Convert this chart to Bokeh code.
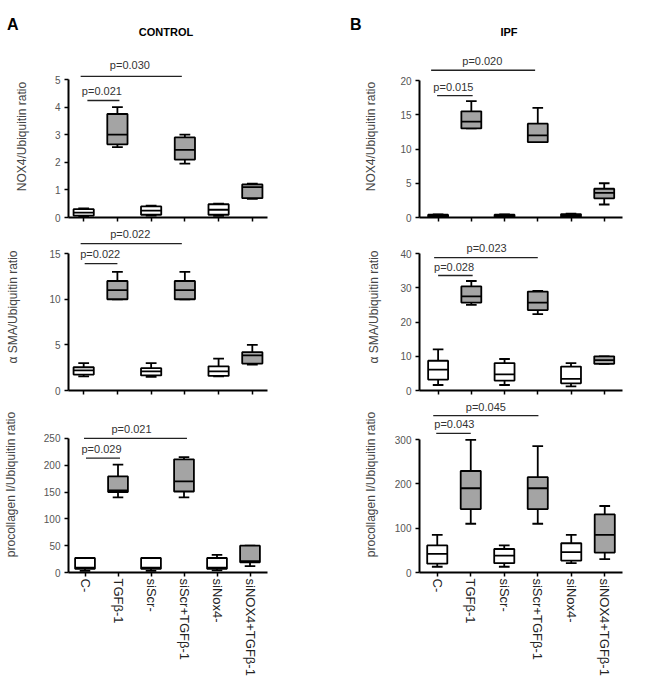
from bokeh.plotting import figure
from bokeh.layouts import row, column
from bokeh.models import Label, FixedTicker, ColumnDataSource, Range1d, Div
from bokeh.embed import file_html
from bokeh.resources import INLINE

categories = ["C-", "TGFβ-1", "siScr-", "siScr+TGFβ-1", "siNox4-", "siNOX4+TGFβ-1"]
tgf_treated = [False, True, False, True, False, True]

# CONTROL - NOX4/Ubiquitin
ctrl_nox4_min = [0.03, 2.55, 0.07, 1.95, 0.06, 0.68]
ctrl_nox4_q1 = [0.07, 2.65, 0.1, 2.1, 0.1, 0.7]
ctrl_nox4_med = [0.18, 3.0, 0.25, 2.45, 0.28, 1.1]
ctrl_nox4_q3 = [0.3, 3.75, 0.4, 2.9, 0.48, 1.2]
ctrl_nox4_max = [0.33, 4.0, 0.43, 3.0, 0.5, 1.23]

# CONTROL - alpha SMA/Ubiquitin
ctrl_sma_min = [1.55, 10.0, 1.5, 10.0, 1.55, 2.85]
ctrl_sma_q1 = [1.75, 10.0, 1.65, 10.0, 1.6, 2.95]
ctrl_sma_med = [2.2, 11.0, 2.1, 11.0, 2.1, 3.85]
ctrl_sma_q3 = [2.55, 12.0, 2.45, 12.0, 2.65, 4.2]
ctrl_sma_max = [3.0, 13.0, 3.0, 13.0, 3.5, 5.0]

# CONTROL - procollagen I/Ubiquitin
ctrl_col_min = [3, 140, 3, 140, 4, 12]
ctrl_col_q1 = [7, 150, 7, 151, 7, 19]
ctrl_col_med = [9, 153, 9, 170, 9, 21]
ctrl_col_q3 = [27, 179, 27, 211, 27, 50]
ctrl_col_max = [27, 201, 27, 215, 33, 50]

# IPF - NOX4/Ubiquitin
ipf_nox4_min = [0.05, 13.0, 0.05, 11.0, 0.05, 1.9]
ipf_nox4_q1 = [0.1, 13.0, 0.1, 11.0, 0.1, 2.8]
ipf_nox4_med = [0.25, 14.0, 0.25, 12.0, 0.3, 3.6]
ipf_nox4_q3 = [0.4, 15.5, 0.4, 13.7, 0.5, 4.2]
ipf_nox4_max = [0.45, 17.0, 0.45, 16.0, 0.55, 5.0]

# IPF - alpha SMA/Ubiquitin
ipf_sma_min = [1.6, 25.0, 1.6, 22.3, 1.2, 7.8]
ipf_sma_q1 = [3.2, 25.7, 2.9, 23.5, 2.1, 7.8]
ipf_sma_med = [6.1, 27.5, 4.7, 25.7, 3.4, 8.9]
ipf_sma_q3 = [8.7, 30.4, 8.0, 28.9, 7.0, 10.0]
ipf_sma_max = [12.0, 32.0, 9.2, 29.1, 8.0, 10.0]

# IPF - procollagen I/Ubiquitin
ipf_col_min = [13, 110, 13, 110, 21, 30]
ipf_col_q1 = [20, 143, 21, 143, 27, 45]
ipf_col_med = [42, 190, 38, 190, 46, 85]
ipf_col_q3 = [61, 229, 53, 215, 66, 131]
ipf_col_max = [85, 299, 61, 285, 85, 150]

FONT = "Liberation Sans"
GREY = "#a4a4a4"
COL_W = 317
HEAD_H = 55


def make_header(letter, letter_x, title, title_x):
    html = (
        f'<div style="position:relative;width:{COL_W}px;height:{HEAD_H}px;'
        f'font-family:\'{FONT}\';color:black;">'
        f'<span style="position:absolute;left:{letter_x}px;top:17px;font-size:16px;'
        f'line-height:16px;font-weight:bold;">{letter}</span>'
        f'<span style="position:absolute;left:{title_x - 60}px;width:120px;text-align:center;'
        f'top:27px;font-size:11px;line-height:11px;font-weight:bold;">{title}</span>'
        '</div>'
    )
    return Div(text=html, width=COL_W, height=HEAD_H, margin=0)


def make_panel(ylabel, mins, q1s, meds, q3s, maxs, yticks, xr, y_end, height,
               borders, show_xlabels, ylab_standoff, pvals):
    left, right, top, bottom = borders
    p = figure(width=COL_W, height=height, output_backend="svg", toolbar_location=None,
               x_range=Range1d(*xr), y_range=Range1d(0, y_end),
               min_border_left=left, min_border_right=right,
               min_border_top=top, min_border_bottom=bottom)
    p.outline_line_color = None
    p.xgrid.visible = False
    p.ygrid.visible = False

    xs = list(range(1, len(categories) + 1))
    fills = [GREY if t else "white" for t in tgf_treated]
    src = ColumnDataSource(dict(
        x=xs, xl=[x - 0.3 for x in xs], xr=[x + 0.3 for x in xs],
        cl=[x - 0.16 for x in xs], cr=[x + 0.16 for x in xs],
        mn=mins, q1=q1s, med=meds, q3=q3s, mx=maxs, fill=fills))
    lw = 1.8
    p.segment(x0="x", y0="q3", x1="x", y1="mx", source=src, line_color="black", line_width=lw)
    p.segment(x0="x", y0="q1", x1="x", y1="mn", source=src, line_color="black", line_width=lw)
    p.segment(x0="cl", y0="mx", x1="cr", y1="mx", source=src, line_color="black", line_width=lw)
    p.segment(x0="cl", y0="mn", x1="cr", y1="mn", source=src, line_color="black", line_width=lw)
    p.vbar(x="x", width=0.6, bottom="q1", top="q3", source=src, fill_color="fill",
           line_color="black", line_width=lw)
    p.segment(x0="xl", y0="med", x1="xr", y1="med", source=src, line_color="black", line_width=lw)

    for (txt, tx, ty, x0, x1, ly) in pvals:
        p.segment(x0=[x0], y0=[ly], x1=[x1], y1=[ly], line_color="#222222", line_width=1.3)
        p.add_layout(Label(x=tx, y=ty, text=txt, text_align="center", text_baseline="middle",
                           text_font=FONT, text_font_size="11px", text_color="#333333"))

    yax = p.yaxis[0]
    yax.ticker = FixedTicker(ticks=yticks)
    yax.bounds = (0, yticks[-1])
    yax.axis_label = ylabel
    yax.axis_label_text_font = FONT
    yax.axis_label_text_font_style = "normal"
    yax.axis_label_text_font_size = "12px"
    yax.axis_label_text_color = "#444444"
    yax.axis_label_standoff = ylab_standoff
    yax.major_label_text_font = FONT
    yax.major_label_text_font_size = "10px"
    yax.major_label_text_color = "#555555"
    yax.major_label_standoff = 4

    xax = p.xaxis[0]
    xax.ticker = FixedTicker(ticks=xs)
    if show_xlabels:
        xax.major_label_overrides = {i + 1: c for i, c in enumerate(categories)}
        xax.major_label_orientation = "vertical"
        xax.major_label_text_font = FONT
        xax.major_label_text_font_size = "13px"
        xax.major_label_text_color = "#222222"
        xax.major_label_standoff = 2
    else:
        xax.major_label_overrides = {i + 1: "" for i in range(len(categories))}
        xax.major_label_text_font_size = "1px"
        xax.major_label_standoff = 0

    for ax in (xax, yax):
        ax.axis_line_width = 2
        ax.axis_line_color = "black"
        ax.major_tick_line_width = 1.5
        ax.major_tick_line_color = "black"
        ax.major_tick_out = 4
        ax.major_tick_in = 0
        ax.minor_tick_line_color = None
    return p


XA = (0.55, 6.45)
XA3 = (0.5, 6.53)
XB = (0.44, 6.55)
XB3 = (0.47, 6.53)

ha = make_header("A", 7, "CONTROL", 166)
hb = make_header("B", 33, "IPF", 192)

a1 = make_panel("NOX4/Ubiquitin ratio", ctrl_nox4_min, ctrl_nox4_q1, ctrl_nox4_med,
                ctrl_nox4_q3, ctrl_nox4_max, [0, 1, 2, 3, 4, 5], XA, 5.87, 168,
                (59, 47, 0, 6), False, 23,
                [("p=0.030", 2.37, 5.51, 0.91, 3.91, 5.11),
                 ("p=0.021", 1.54, 4.57, 1.11, 2.06, 4.24)])

a2 = make_panel("α SMA/Ubiquitin ratio", ctrl_sma_min, ctrl_sma_q1, ctrl_sma_med,
                ctrl_sma_q3, ctrl_sma_max, [0, 5, 10, 15], XA, 18.3, 173,
                (59, 47, 0, 6), False, 26,
                [("p=0.022", 2.38, 17.2, 0.91, 3.91, 16.1),
                 ("p=0.022", 1.49, 15.0, 1.03, 2.0, 13.9)])

a3 = make_panel("procollagen I/Ubiquitin ratio", ctrl_col_min, ctrl_col_q1, ctrl_col_med,
                ctrl_col_q3, ctrl_col_max, [0, 50, 100, 150, 200, 250], XA3, 328, 283,
                (62, 50, 0, 107), True, 23,
                [("p=0.021", 2.41, 267, 0.97, 4.09, 250),
                 ("p=0.029", 1.5, 231, 1.03, 2.06, 213)])

b1 = make_panel("NOX4/Ubiquitin ratio", ipf_nox4_min, ipf_nox4_q1, ipf_nox4_med,
                ipf_nox4_q3, ipf_nox4_max, [0, 5, 10, 15, 20], XB, 23.65, 168,
                (98, 12, 0, 6), False, 19,
                [("p=0.020", 2.33, 22.8, 0.79, 3.92, 21.5),
                 ("p=0.015", 1.46, 19.1, 0.97, 2.04, 17.8)])

b2 = make_panel("α SMA/Ubiquitin ratio", ipf_sma_min, ipf_sma_q1, ipf_sma_med,
                ipf_sma_q3, ipf_sma_max, [0, 10, 20, 30, 40], XB, 48.8, 173,
                (99, 12, 0, 6), False, 16,
                [("p=0.023", 2.46, 41.75, 0.88, 4.0, 38.8),
                 ("p=0.028", 1.48, 36.2, 1.0, 2.04, 33.6)])

b3 = make_panel("procollagen I/Ubiquitin ratio", ipf_col_min, ipf_col_q1, ipf_col_med,
                ipf_col_q3, ipf_col_max, [0, 100, 200, 300], XB3, 397, 283,
                (102, 10, 0, 107), True, 14,
                [("p=0.045", 2.45, 374, 0.88, 4.02, 354),
                 ("p=0.043", 1.51, 334, 0.97, 2.0, 313.6)])

layout = row(column(ha, a1, a2, a3, spacing=0), column(hb, b1, b2, b3, spacing=0), spacing=0)
open("out.html", "w").write(file_html(layout, INLINE))
